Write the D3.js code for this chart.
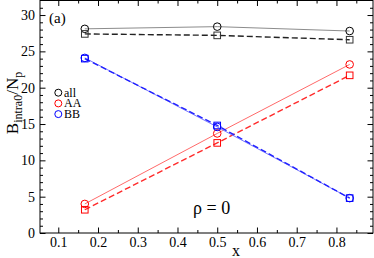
<!DOCTYPE html>
<html>
<head>
<meta charset="utf-8">
<script src="https://cdn.jsdelivr.net/npm/d3@7"></script>
<style>
  body { margin: 0; background: #fff; }
  svg { display: block; }
</style>
</head>
<body>
<svg id="stage" width="374" height="258" style="font-family:'Liberation Serif'"></svg>
<script>
var svg = d3.select("#stage");

// data
var xs = [0.1667, 0.5, 0.8333];
var allCirc = [28.1, 28.4, 27.8];
var allSq = [27.4, 27.2, 26.6];
var aaCirc = [4.0, 13.7, 23.2];
var aaSq = [3.2, 12.4, 21.7];
var bbCirc = [24.1, 14.6, 4.8];
var bbSq = [24.0, 14.8, 4.8];

var xTicks = [0.1, 0.2, 0.3, 0.4, 0.5, 0.6, 0.7, 0.8];
var yTicks = [0, 5, 10, 15, 20, 25, 30];
var legendNames = ["all", "AA", "BB"];
var legendColors = ["#000000", "#ff0000", "#0000ff"];

var fontName = "'Liberation Serif'";

// frame (note: "top" is taken by window.top, so use other names)
var frameL = 40, frameR = 373, frameT = 0.5, frameB = 233;

var x = d3.scaleLinear().domain([0.054, 0.892]).range([frameL, frameR]);
var y = d3.scaleLinear().domain([0, 32]).range([frameB, frameT]);

var xMinor = d3.range(0.1, 0.9, 0.05).filter(function(v){ return Math.abs(v*10 - Math.round(v*10)) > 0.01; });
var yMinor = d3.range(1, 32, 1).filter(function(v){ return v % 5 !== 0; });

////////////////////////////// AXES

var g = svg.append("g");

g.append("rect")
  .attr("x", frameL).attr("y", frameT)
  .attr("width", frameR - frameL).attr("height", frameB - frameT)
  .attr("fill", "none").attr("stroke", "#000").attr("stroke-width", 1);

var styleAxis = function(sel){
  sel.attr("font-family", null);
  sel.select(".domain").remove();
  sel.selectAll("line").attr("stroke", "#000");
  sel.selectAll("text").attr("font-size", null)
    .style("font-size", "14px").style("font-family", fontName);
};

// bottom
g.append("g").attr("transform", "translate(0," + frameB + ")")
  .call(d3.axisBottom(x).tickValues(xTicks).tickSize(-5.5).tickPadding(4).tickFormat(d3.format(".1f")))
  .call(styleAxis);
g.append("g").attr("transform", "translate(0," + frameB + ")")
  .call(d3.axisBottom(x).tickValues(xMinor).tickSize(-3).tickFormat(""))
  .call(styleAxis);
// top
g.append("g").attr("transform", "translate(0," + frameT + ")")
  .call(d3.axisTop(x).tickValues(xTicks).tickSize(-5.5).tickFormat(""))
  .call(styleAxis);
g.append("g").attr("transform", "translate(0," + frameT + ")")
  .call(d3.axisTop(x).tickValues(xMinor).tickSize(-3).tickFormat(""))
  .call(styleAxis);
// left
g.append("g").attr("transform", "translate(" + frameL + ",0)")
  .call(d3.axisLeft(y).tickValues(yTicks).tickSize(-5.5).tickPadding(5))
  .call(styleAxis);
g.append("g").attr("transform", "translate(" + frameL + ",0)")
  .call(d3.axisLeft(y).tickValues(yMinor).tickSize(-3).tickFormat(""))
  .call(styleAxis);
// right
g.append("g").attr("transform", "translate(" + frameR + ",0)")
  .call(d3.axisRight(y).tickValues(yTicks).tickSize(-5.5).tickFormat(""))
  .call(styleAxis);
g.append("g").attr("transform", "translate(" + frameR + ",0)")
  .call(d3.axisRight(y).tickValues(yMinor).tickSize(-3).tickFormat(""))
  .call(styleAxis);

////////////////////////////// SERIES

var line = d3.line()
  .x(function(d){ return x(d[0]); })
  .y(function(d){ return y(d[1]); });

var series = [
  {vals: allCirc, line: "#8c8c8c", mark: "#000000", dash: null, shape: "circle"},
  {vals: allSq, line: "#222222", mark: "#333333", dash: "6,3", shape: "square"},
  {vals: aaCirc, line: "#ff6a6a", mark: "#ff0000", dash: null, shape: "circle"},
  {vals: aaSq, line: "#ff2a2a", mark: "#ff0000", dash: "6,3", shape: "square"},
  {vals: bbCirc, line: "#7a7aff", mark: "#0000ff", dash: null, shape: "circle"},
  {vals: bbSq, line: "#2020ff", mark: "#0000ff", dash: "6,3", shape: "square"}
];

series.forEach(function(s){
  var pts = xs.map(function(v, i){ return [v, s.vals[i]]; });
  g.append("path")
    .attr("d", line(pts))
    .attr("fill", "none")
    .attr("stroke", s.line)
    .attr("stroke-width", s.dash ? 1.4 : 1)
    .attr("stroke-dasharray", s.dash);
});

series.forEach(function(s){
  var pts = xs.map(function(v, i){ return [v, s.vals[i]]; });
  if (s.shape === "circle") {
    g.selectAll(null).data(pts).enter().append("circle")
      .attr("cx", function(d){ return x(d[0]); })
      .attr("cy", function(d){ return y(d[1]); })
      .attr("r", 3.8)
      .attr("fill", "none").attr("stroke", s.mark).attr("stroke-width", 1);
  } else {
    g.selectAll(null).data(pts).enter().append("rect")
      .attr("x", function(d){ return x(d[0]) - 3.3; })
      .attr("y", function(d){ return y(d[1]) - 3.3; })
      .attr("width", 6.6).attr("height", 6.6)
      .attr("fill", "none").attr("stroke", s.mark).attr("stroke-width", 1);
  }
});

////////////////////////////// TEXT

var addText = function(px, py, size, str){
  return g.append("text").attr("x", px).attr("y", py)
    .style("font-family", fontName).style("font-size", size + "px")
    .text(str);
};

// legend
legendNames.forEach(function(name, i){
  var ly = 92.7 + i * 10.7;
  g.append("circle").attr("cx", 58.3).attr("cy", ly).attr("r", 3.5)
    .attr("fill", "none").attr("stroke", legendColors[i]).attr("stroke-width", 1);
  addText(64, ly + 4, 12, name);
});

addText(49, 23, 15, "(a)");
addText(193, 214, 18, "ρ = 0");
addText(236, 256, 16, "x").attr("text-anchor", "middle");

// y label
var yl = g.append("text")
  .attr("transform", "translate(18,103) rotate(-90)")
  .attr("text-anchor", "middle")
  .style("font-family", fontName)
  .style("font-size", "17px");
yl.append("tspan").text("B");
yl.append("tspan").attr("dy", 4).style("font-size", "12px").text("intra0");
yl.append("tspan").attr("dy", -4).text("/N");
yl.append("tspan").attr("dy", 4).style("font-size", "12px").text("p");
</script>
</body>
</html>
